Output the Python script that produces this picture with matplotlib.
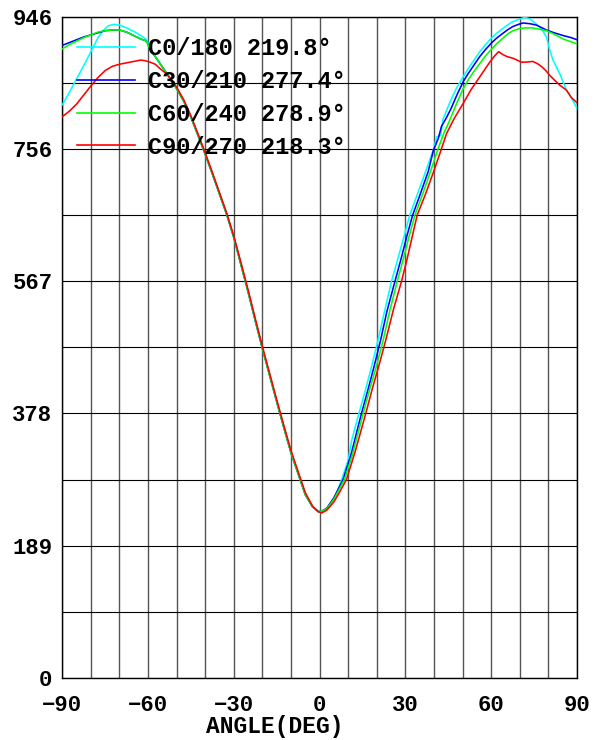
import matplotlib
matplotlib.use('Agg')
import matplotlib.pyplot as plt

plt.rcParams['font.family'] = ['Liberation Mono', 'DejaVu Sans Mono']
plt.rcParams['font.weight'] = 'bold'

# ---------------- data ----------------
series_labels = ['C0/180 219.8°', 'C30/210 277.4°', 'C60/240 278.9°', 'C90/270 218.3°']
series_colors = ['#00FFFF', '#0000FF', '#00FF00', '#FF0000']

x_ticks = [-90, -60, -30, 0, 30, 60, 90]
y_ticks = [0, 189.2, 378.4, 567.6, 756.8, 946]
y_tick_labels = ['0', '189', '378', '567', '756', '946']

c0_ang = [-90, -87.5, -85, -82.5, -80, -77.5, -76, -74, -72, -70, -67.5, -65, -62.5, -61, -60.3,
          -59.5, -57.5, -55, -52.5, -50, -47.5, -45, -42.5, -40, -37.5, -35, -32.5, -30, -27.5,
          -25, -22.5, -20, -17.5, -15, -12.5, -10, -7.5, -5, -2.5, -0.5, 0.5, 2, 3.4, 5.9, 7.7,
          10, 11.2, 13.7, 16, 18, 20.4, 22.5, 25.1, 27.5, 30, 31.5, 34, 37, 39.9, 40.9, 42.3,
          43.2, 46, 48, 50.2, 52, 54, 56, 58, 60, 61.8, 64, 66, 67.6, 69.5, 71.7, 73.5, 75,
          76.5, 78, 79.3, 80.5, 81.6, 83.9, 86.3, 88, 90]
c0_val = [820, 838, 857, 876, 896, 916, 925, 933, 935, 934, 930, 925, 919, 915, 912,
          902, 889, 874, 859, 843, 825, 802, 776, 749, 721, 692, 663, 630, 591,
          552, 511, 471, 433, 395, 358, 322, 292, 262, 245, 239, 238, 241, 245, 264, 284,
          312, 340, 378, 412, 443, 483, 521, 567, 602, 639, 662, 690, 724, 757, 774, 776,
          800, 828, 845, 860, 872, 884, 896, 906, 915, 922, 929, 935, 939, 942, 945, 943, 938,
          933, 926, 917, 898, 884, 865, 841, 830, 815]

c30_ang = [-90, -87.5, -85, -82.5, -80, -77.5, -75, -72.5, -70, -67.5, -65, -62.5, -61, -60.3,
           -59.5, -57.5, -55, -52.5, -50, -47.5, -45, -42.5, -40, -37.5, -35, -32.5, -30, -27.5,
           -25, -22.5, -20, -17.5, -15, -12.5, -10, -7.5, -5, -2.5, -0.5, 0.5, 2.5, 5, 8.2,
           11, 14.6, 17, 19, 21.3, 23.5, 26.3, 28.5, 30.5, 32.5, 35, 38, 39.8, 41.5, 42.6, 44.4,
           46, 48, 50.2, 52, 54, 56, 58, 60, 61.8, 64, 66, 67.6, 69.5, 71.1, 73.5, 75.8, 79.3,
           82, 85.2, 88, 90]
c30_val = [905, 909, 913, 917, 920, 923, 926, 927, 927, 924, 919, 914, 912, 909,
           901, 889, 874, 859, 843, 825, 802, 776, 749, 721, 692, 663, 630, 591,
           552, 511, 471, 433, 395, 358, 322, 292, 262, 245, 238, 238, 243, 258, 284,
           320, 378, 414, 445, 483, 524, 567, 600, 632, 662, 690, 725, 755, 772, 789, 802,
           815, 834, 853, 865, 877, 889, 899, 908, 915, 922, 928, 932, 935, 937, 936, 934, 927,
           923, 919, 916, 913]

c60_ang = [-90, -87.5, -85, -82.5, -80, -77.5, -75, -72.5, -70, -67.5, -65, -62.5, -61, -60.3,
           -59.5, -57.5, -55, -52.5, -50, -47.5, -45, -42.5, -40, -37.5, -35, -32.5, -30, -27.5,
           -25, -22.5, -20, -17.5, -15, -12.5, -10, -7.5, -5, -2.5, -0.5, 0.3, 2.5, 5, 8.7,
           11.5, 15.2, 17.5, 19.8, 22.2, 24.5, 27.1, 29.3, 31.3, 33.3, 36, 38.8, 41.4, 43.5, 45.5,
           48, 50.2, 52, 54, 56, 58, 60, 61.8, 64, 66, 67.6, 70, 72, 74.3, 77, 79.3, 82, 85.2,
           88, 90]
c60_val = [900, 906, 911, 916, 920, 924, 926, 927, 927, 924, 919, 914, 912, 909,
           901, 889, 874, 859, 843, 825, 802, 776, 749, 721, 692, 663, 630, 591,
           552, 511, 471, 433, 395, 358, 322, 292, 262, 245, 238, 238, 242, 256, 284,
           320, 378, 413, 445, 483, 525, 567, 600, 632, 662, 692, 725, 757, 780, 798,
           823, 843, 856, 868, 879, 890, 899, 907, 915, 922, 926, 929, 930, 930, 928, 926, 921, 914,
           910, 907]

c90_ang = [-90, -87.5, -85, -82.5, -80, -77.5, -75, -72.5, -70, -67.5, -65, -62.5, -61, -59.3,
           -57.5, -55.9, -53.5, -51.8, -50, -47.5, -45, -42.5, -40, -37.5, -35, -32.5, -30, -27.5,
           -25, -22.5, -20, -17.5, -15, -12.5, -10, -7.5, -5, -2.5, -0.5, 0.7, 2.5, 5, 7, 9.4,
           12.5, 16.1, 18.5, 20.8, 23.1, 25.8, 28.6, 30.5, 32.3, 34.1, 37, 40, 42.6, 44.4, 47,
           50.2, 53, 56, 59.5, 61.2, 62.6, 64, 65.5, 68, 70.5, 72, 74.6, 76.5, 77.8, 79.3, 80.5,
           82.2, 84, 86.3, 88.1, 90]
c90_val = [803, 811, 821, 834, 847, 859, 869, 875, 878, 880, 882, 884, 883, 881,
           878, 872, 864, 856, 845, 827, 804, 778, 751, 723, 694, 665, 632, 594,
           555, 514, 474, 436, 398, 361, 325, 295, 265, 246, 238, 236, 240, 252, 266, 284,
           325, 378, 415, 448, 483, 527, 567, 598, 630, 662, 692, 726, 757, 779, 800,
           822, 842, 860, 881, 890, 896, 892, 889, 886, 881, 881, 882, 878, 874, 868, 862,
           855, 848, 841, 830, 823]

angles = [c0_ang, c30_ang, c60_ang, c90_ang]
values = [c0_val, c30_val, c60_val, c90_val]

# ---------------- figure ----------------
W, H = 599, 740
fig = plt.figure(figsize=(W / 100, H / 100), dpi=100)
ax = fig.add_axes([62.3 / W, 1 - 678 / H, (577 - 62.3) / W, (678 - 16.7) / H])

for a, v, c, lab in zip(angles, values, series_colors, series_labels):
    ax.plot(a, v, color=c, lw=1.15, label=lab, solid_joinstyle='round', zorder=3)

ax.set_xlim(-90, 90)
ax.set_ylim(0, 946)
ax.set_xticks(x_ticks)
ax.set_xticks(list(range(-90, 91, 10)), minor=True)
ax.set_yticks(y_ticks)
ax.set_yticklabels(y_tick_labels)
ax.set_yticks([94.6 * k for k in range(11)], minor=True)

ax.xaxis.grid(True, which='both', color='#555555', lw=1.0, zorder=1)
ax.yaxis.grid(True, which='both', color='black', lw=0.8, zorder=1)
ax.set_axisbelow(True)

ax.tick_params(which='both', length=0)
ax.tick_params(axis='x', labelsize=16, pad=12)
ax.tick_params(axis='y', labelsize=16, pad=7)
for lbl in ax.get_xticklabels() + ax.get_yticklabels():
    lbl.set_fontweight('bold')

for s in ax.spines.values():
    s.set_color('black')
    s.set_linewidth(1.0)

fig.text(275 / W, 1 - 727 / H, 'ANGLE(DEG)', ha='center', va='center',
         fontsize=16.5, fontweight='bold')

leg = ax.legend(loc='upper left', bbox_to_anchor=(77 / W, 1 - 37 / H),
                bbox_transform=fig.transFigure, frameon=False,
                prop={'size': 17, 'weight': 'bold'},
                handlelength=2.45, handletextpad=0.55, labelspacing=0.42,
                borderpad=0, borderaxespad=0)
for line in leg.get_lines():
    line.set_linewidth(1.2)

fig.savefig('out.png', dpi=100, facecolor='white')
